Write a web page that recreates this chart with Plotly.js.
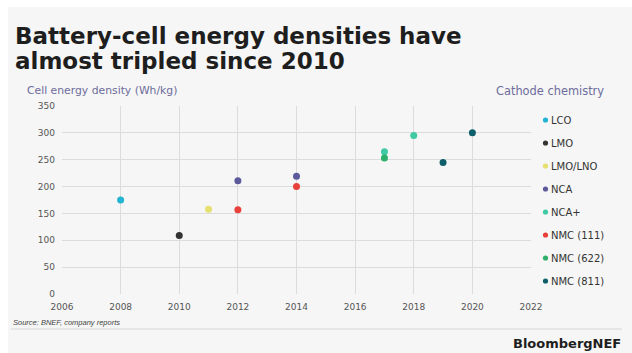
<!DOCTYPE html>
<html>
<head>
<meta charset="utf-8">
<script src="https://cdn.plot.ly/plotly-3.0.1.min.js"></script>
<style>
  html, body { margin: 0; padding: 0; background: #ffffff; }
  #chart { width: 632px; height: 353px; }
</style>
</head>
<body>
<div id="chart"></div>
<script>
// Cell energy density by cathode chemistry and year
const chemistries = ["LCO", "LMO", "LMO/LNO", "NCA", "NCA+", "NMC (111)", "NMC (622)", "NMC (811)"];
const colors = ["#22b4d2", "#333333", "#e6e070", "#5d5a9c", "#40c9a2", "#e8413b", "#2fae6c", "#0d5f6a"];

const lcoYears = [2008];        const lcoValues = [175];
const lmoYears = [2010];        const lmoValues = [109];
const lmoLnoYears = [2011];     const lmoLnoValues = [158];
const ncaYears = [2012, 2014];  const ncaValues = [211, 219];
const ncaPlusYears = [2017, 2018]; const ncaPlusValues = [265, 295];
const nmc111Years = [2012, 2014];  const nmc111Values = [157, 200];
const nmc622Years = [2017];        const nmc622Values = [253];
const nmc811Years = [2019, 2020];  const nmc811Values = [245, 300];

const xTicks = [2006, 2008, 2010, 2012, 2014, 2016, 2018, 2020, 2022];
const yTicks = [0, 50, 100, 150, 200, 250, 300, 350];

const seriesYears = [lcoYears, lmoYears, lmoLnoYears, ncaYears, ncaPlusYears, nmc111Years, nmc622Years, nmc811Years];
const seriesValues = [lcoValues, lmoValues, lmoLnoValues, ncaValues, ncaPlusValues, nmc111Values, nmc622Values, nmc811Values];

const W = 632, H = 353;
const M = { l: 62, r: 101, t: 106, b: 59 };
const plotW = W - M.l - M.r, plotH = H - M.t - M.b;
// pixel -> paper coordinates
const px = x => (x - M.l) / plotW;
const py = y => (H - M.b - y) / plotH;

const SANS = "DejaVu Sans, sans-serif";
const ARIAL = "Liberation Sans, Arial, sans-serif";

const traces = chemistries.map((name, i) => ({
  type: "scatter",
  mode: "markers",
  name: name,
  x: seriesYears[i],
  y: seriesValues[i],
  marker: { color: colors[i], size: 7 },
  showlegend: false,
  hoverinfo: "x+y+name"
}));

const annotations = [
  { text: "<b>Battery-cell energy densities have</b>", x: px(13), y: py(51), xanchor: "left", yanchor: "bottom",
    font: { family: SANS, size: 23, color: "#1e1e1e" } },
  { text: "<b>almost tripled since 2010</b>", x: px(13), y: py(76), xanchor: "left", yanchor: "bottom",
    font: { family: SANS, size: 23, color: "#1e1e1e" } },
  { text: "Cell energy density (Wh/kg)", x: px(25), y: py(90.5), xanchor: "left", yanchor: "middle",
    font: { family: SANS, size: 10.8, color: "#6e6c9c" } },
  { text: "Cathode chemistry", x: px(606), y: py(90.5), xanchor: "right", yanchor: "middle",
    font: { family: SANS, size: 11.4, color: "#6e6c9c" } },
  { text: "<i>Source: BNEF, company reports</i>", x: px(11), y: py(322), xanchor: "left", yanchor: "middle",
    font: { family: ARIAL, size: 7.5, color: "#444444" } },
  { text: "<b>BloombergNEF</b>", x: px(623), y: py(343), xanchor: "right", yanchor: "middle",
    font: { family: SANS, size: 13, color: "#1e1e1e" } }
];

const shapes = [
  // slide panel
  { type: "rect", xref: "paper", yref: "paper", x0: px(8), x1: px(632), y0: py(353), y1: py(7),
    fillcolor: "#f5f6f5", line: { width: 0 }, layer: "below" },
  // rule under the source note
  { type: "line", xref: "paper", yref: "paper", x0: px(11), x1: px(622), y0: py(329), y1: py(329),
    line: { color: "#d6d6d6", width: 1 } }
];

// Chemistry key on the right: coloured dot + label per row
const keyTop = 120, keyStep = 23, dotX = 545.5, dotR = 2.6;
chemistries.forEach((name, i) => {
  const yc = keyTop + i * keyStep;
  shapes.push({
    type: "circle", xref: "paper", yref: "paper",
    x0: px(dotX - dotR), x1: px(dotX + dotR), y0: py(yc + dotR), y1: py(yc - dotR),
    fillcolor: colors[i], line: { width: 0 }
  });
  annotations.push({
    text: name, x: px(549), y: py(yc), xanchor: "left", yanchor: "middle",
    font: { family: SANS, size: 10, color: "#333333" }
  });
});
annotations.forEach(a => { a.xref = "paper"; a.yref = "paper"; a.showarrow = false; });

const layout = {
  width: W, height: H,
  margin: M,
  paper_bgcolor: "#ffffff",
  plot_bgcolor: "rgba(0,0,0,0)",
  showlegend: false,
  font: { family: SANS, color: "#555555", size: 9 },
  xaxis: {
    range: [2006, 2022], tickvals: xTicks, ticktext: xTicks.map(String),
    showgrid: true, gridcolor: "#dcdcdc", gridwidth: 1,
    zeroline: false, showline: false, ticks: "", ticklabelstandoff: 6,
    tickfont: { family: SANS, size: 9, color: "#555555" }, fixedrange: true
  },
  yaxis: {
    range: [0, 350], tickvals: yTicks,
    showgrid: true, gridcolor: "#dcdcdc", gridwidth: 1,
    zeroline: false, showline: false, ticks: "", ticklabelstandoff: 6,
    tickfont: { family: SANS, size: 9, color: "#555555" }, fixedrange: true
  },
  annotations: annotations,
  shapes: shapes
};

Plotly.newPlot("chart", traces, layout, { displayModeBar: false, staticPlot: true });
</script>
</body>
</html>
